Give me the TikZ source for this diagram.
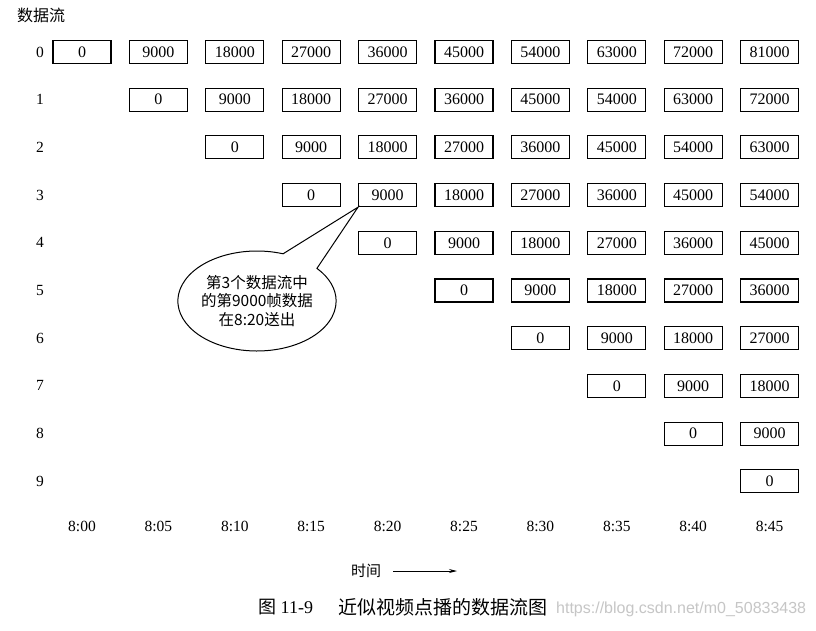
\documentclass[tikz,border=0pt]{standalone}
\usepackage{fontspec}
\setmainfont{Liberation Serif}
\newfontfamily\cjk{Noto Sans CJK SC}
\newfontfamily\wmfont{Liberation Sans}
\usetikzlibrary{shapes.callouts,arrows.meta}
\begin{document}
\begin{tikzpicture}[x=1pt,y=1pt,
  cell/.style={draw, line width=1.1pt, minimum width=58pt, minimum height=23pt, inner sep=0pt, font=\fontsize{16}{18}\selectfont},
  lbl/.style={font=\fontsize{15.5}{18}\selectfont, inner sep=0pt},
  cn/.style={font=\cjk\fontsize{15}{18}\selectfont, inner sep=0pt}]
\useasboundingbox[fill=white] (0,0) rectangle (816,-630);
\node[cn, font=\cjk\fontsize{16}{18}\selectfont] (stream) at (41,-15) {数据流};
\foreach \r in {0,...,9} {
  \node[lbl] (r\r) at (40, {-52-47.7*\r}) {\r};
  \foreach \c in {\r,...,9} {
    \node[cell] (b\r-\c) at ({82+76.4*\c}, {-52-47.7*\r}) {\the\numexpr9000*(\c-\r)\relax};
  }
}
\foreach \c/\t in {0/8:00,1/8:05,2/8:10,3/8:15,4/8:20,5/8:25,6/8:30,7/8:35,8/8:40,9/8:45} {
  \node[lbl] (t\c) at ({82+76.4*\c}, -526) {\t};
}
\node[ellipse callout, draw, line width=1pt, minimum width=154pt, minimum height=100pt,
  callout absolute pointer={(b3-4.south west)}, callout pointer arc=30, align=center,
  inner sep=0pt, font=\cjk\fontsize{15.5}{18.5}\selectfont] (note) at (257,-301)
  {第3个数据流中\\的第9000帧数据\\在8:20送出};
\node[cn] (time) at (366,-571) {时间};
\coordinate (aend) at (457,-571);
\draw[-{Stealth[length=8pt,width=4pt]}, line width=0.8pt] ([xshift=12pt]time.east) -- (aend);
\node[anchor=west, inner sep=0pt, font=\fontsize{18}{20}\selectfont] (cap1) at (258,-607) {{\cjk 图} 11-9};
\node[anchor=west, inner sep=0pt, font=\cjk\fontsize{19}{20}\selectfont] (cap2) at (338,-607) {近似视频点播的数据流图};
\node[anchor=west, inner sep=0pt, text=gray!45, font=\wmfont\fontsize{16}{18}\selectfont] (wm) at (556,-609) {https://blog.csdn.net/m0\_50833438};
\end{tikzpicture}
\end{document}
